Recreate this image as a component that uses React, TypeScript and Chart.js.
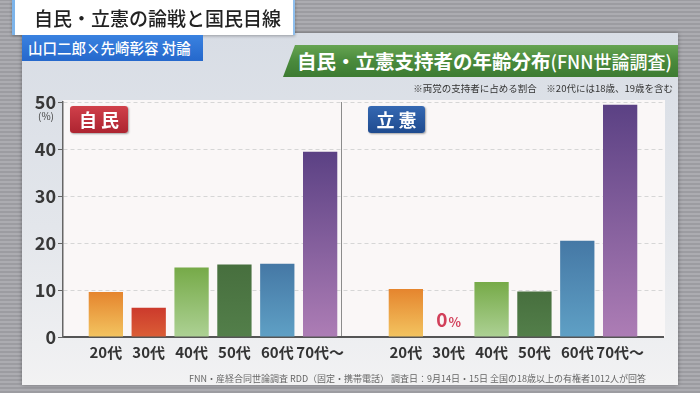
import { useEffect, useRef } from 'react';
import { Chart, registerables } from 'chart.js';

Chart.register(...registerables);

// ---- data ----
const categories = ['20代', '30代', '40代', '50代', '60代', '70代〜'];
const ldpValues = [9.6, 6.2, 14.8, 15.4, 15.6, 39.4];
const cdpValues = [10.2, 0, 11.7, 9.7, 20.5, 49.4];
const yTicks = [0, 10, 20, 30, 40, 50];

const JP = '"Noto Sans CJK JP", "Noto Sans", sans-serif';

const barColors: [string, string][] = [
  ['#e5852e', '#f3c460'],
  ['#cc3a2c', '#db5e36'],
  ['#76aa48', '#add194'],
  ['#476f3e', '#537f4a'],
  ['#4578a5', '#5fa0c5'],
  ['#5b4184', '#ad7db5'],
];

export default function App() {
  const ref = useRef<HTMLCanvasElement>(null);

  useEffect(() => {
    if (!ref.current) return;
    const labels = ['', ...categories, '', ...categories, ''];
    const values: (number | null)[] = [null, ...ldpValues, null, ...cdpValues, null];
    const colorIndex = labels.map((l) => categories.indexOf(l));

    const plotBg = {
      id: 'plotBg',
      beforeDraw(chart: any) {
        const { ctx, chartArea: a } = chart;
        ctx.save();
        ctx.fillStyle = '#faf7f7';
        ctx.fillRect(a.left, a.top - 2, a.right - a.left + 2, a.bottom - a.top + 2);
        ctx.restore();
      },
    };

    const zeroLabel = {
      id: 'zeroLabel',
      afterDatasetsDraw(chart: any) {
        const { ctx, scales } = chart;
        values.forEach((v, i) => {
          if (v !== 0) return;
          const cx = scales.x.getPixelForValue(i);
          const by = scales.y.getPixelForValue(0) - 10;
          ctx.save();
          ctx.fillStyle = '#d2405a';
          ctx.textBaseline = 'alphabetic';
          ctx.textAlign = 'left';
          ctx.font = `bold 19px ${JP}`;
          const w0 = ctx.measureText('0').width;
          ctx.font = `bold 13px ${JP}`;
          const w1 = ctx.measureText('%').width;
          const start = cx - (w0 + w1 + 1) / 2;
          ctx.font = `bold 19px ${JP}`;
          ctx.fillText('0', start, by);
          ctx.font = `bold 13px ${JP}`;
          ctx.fillText('%', start + w0 + 1, by);
          ctx.restore();
        });
      },
    };

    const chart = new Chart(ref.current, {
      type: 'bar',
      data: {
        labels,
        datasets: [
          {
            data: values as any,
            barPercentage: 0.8,
            categoryPercentage: 1,
            borderWidth: 0,
            backgroundColor: (c: any) => {
              const ci = colorIndex[c.dataIndex];
              if (ci < 0) return 'rgba(0,0,0,0)';
              const [top, bottom] = barColors[ci];
              const chart = c.chart;
              if (!chart.chartArea) return top;
              const ys = chart.scales.y;
              const v = values[c.dataIndex] ?? 0;
              const t = ys.getPixelForValue(v);
              const b = ys.getPixelForValue(0);
              if (!(b - t > 0.5)) return top;
              const g = chart.ctx.createLinearGradient(0, t, 0, b);
              g.addColorStop(0, top);
              g.addColorStop(1, bottom);
              return g;
            },
          },
        ],
      },
      options: {
        animation: false,
        responsive: true,
        maintainAspectRatio: false,
        layout: { padding: { left: 22, right: 37, top: 102, bottom: 0 } },
        plugins: { legend: { display: false }, tooltip: { enabled: false } },
        scales: {
          x: {
            type: 'category',
            offset: false,
            grid: {
              color: (c: any) => (c.index === 7 ? '#8c8c8c' : 'rgba(0,0,0,0)'),
              lineWidth: 1,
              drawTicks: false,
            },
            border: { display: true, color: '#555', width: 2 },
            ticks: {
              autoSkip: false,
              maxRotation: 0,
              minRotation: 0,
              padding: 6,
              color: '#333',
              font: { family: JP, size: 15, weight: 'bold' },
            },
            afterFit: (s: any) => {
              s.height = 56;
            },
          },
          y: {
            min: 0,
            max: 50,
            afterBuildTicks: (s: any) => {
              s.ticks = yTicks.map((v) => ({ value: v }));
            },
            grid: {
              color: (c: any) => (c.tick && c.tick.value === 0 ? 'rgba(0,0,0,0)' : '#d6d6d6'),
              lineWidth: 1,
              drawTicks: true,
              tickLength: 5,
              tickColor: '#666',
            },
            border: { display: true, color: '#666', width: 1.5, dash: [4, 3] },
            ticks: {
              padding: 2,
              color: '#383838',
              font: { family: JP, size: 18, weight: 'bold' },
            },
            afterFit: (s: any) => {
              s.width = 41;
            },
          },
        },
      },
      plugins: [plotBg, zeroLabel],
    } as any);

    return () => chart.destroy();
  }, []);

  const abs = (s: any) => ({ position: 'absolute', ...s } as any);

  return (
    <div
      style={{
        position: 'fixed',
        left: 0,
        top: 0,
        width: 700,
        height: 393,
        overflow: 'hidden',
        fontFamily: JP,
        background: 'repeating-linear-gradient(0deg, #9c9ca1 0px, #9c9ca1 2px, #acacb1 2px, #acacb1 4px)',
      }}
    >
      {/* main panel */}
      <div
        style={abs({
          left: 22,
          top: 33,
          width: 656,
          height: 352,
          background: 'linear-gradient(180deg, #d8dde5 0%, #e3e6eb 55%, #f2f2f3 100%)',
          boxShadow: '0 0 4px rgba(0,0,0,0.35)',
        })}
      />
      {/* chart */}
      <div style={abs({ left: 0, top: 0, width: 700, height: 393 })}>
        <canvas ref={ref} />
      </div>

      {/* title */}
      <div
        style={abs({
          left: 12,
          top: 0,
          width: 283,
          height: 35,
          background: '#ffffff',
          borderLeft: '3px solid #7db4ea',
          borderRight: '2px solid #8fbfee',
          boxSizing: 'border-box',
          boxShadow: '0 1px 3px rgba(0,0,0,0.3)',
          color: '#222',
          fontSize: 19,
          fontWeight: 500,
          lineHeight: '35px',
          paddingLeft: 19,
          whiteSpace: 'nowrap',
        })}
      >
        自民・立憲の論戦と国民目線
      </div>

      {/* blue label */}
      <div
        style={abs({
          left: 22,
          top: 35,
          width: 181,
          height: 26,
          background: 'linear-gradient(180deg, #3a82e0, #2568cc)',
          color: '#fff',
          fontSize: 14.5,
          fontWeight: 500,
          lineHeight: '26px',
          paddingLeft: 6,
          boxSizing: 'border-box',
          whiteSpace: 'nowrap',
        })}
      >
        山口二郎×先崎彰容 対論
      </div>

      {/* green banner */}
      <div
        style={abs({
          left: 283,
          top: 45,
          width: 395,
          height: 32,
          background: 'linear-gradient(180deg, #66a452 0%, #4a8a3c 50%, #3d7b32 100%)',
          clipPath: 'polygon(12px 0, 100% 0, 100% 100%, 0 100%)',
          color: '#fff',
          fontWeight: 700,
          fontSize: 19.5,
          lineHeight: '32px',
          paddingLeft: 14,
          boxSizing: 'border-box',
          whiteSpace: 'nowrap',
        })}
      >
        自民・立憲支持者の年齢分布<span style={{ fontSize: 18, fontWeight: 500 }}>(FNN世論調査)</span>
      </div>

      {/* note */}
      <div
        style={abs({
          right: 27,
          top: 82,
          fontSize: 9.5,
          color: '#333',
          whiteSpace: 'nowrap',
          lineHeight: '13px',
        })}
      >
        ※両党の支持者に占める割合　※20代には18歳、19歳を含む
      </div>

      {/* (%) */}
      <div style={abs({ left: 38, top: 110, fontSize: 10, color: '#444', lineHeight: '12px' })}>(%)</div>

      {/* badges */}
      <div
        style={abs({
          left: 70,
          top: 106,
          width: 58,
          height: 27,
          borderRadius: 3,
          background: 'linear-gradient(180deg, #d0404a, #ad2430)',
          boxShadow: '1px 1px 2px rgba(0,0,0,0.35)',
          color: '#fff',
          fontWeight: 700,
          fontSize: 18,
          lineHeight: '27px',
          textAlign: 'center',
          letterSpacing: 4,
          paddingLeft: 4,
          boxSizing: 'border-box',
        })}
      >
        自民
      </div>
      <div
        style={abs({
          left: 368,
          top: 106,
          width: 57,
          height: 27,
          borderRadius: 3,
          background: 'linear-gradient(180deg, #3568b2, #1f4b8f)',
          boxShadow: '1px 1px 2px rgba(0,0,0,0.35)',
          color: '#fff',
          fontWeight: 700,
          fontSize: 18,
          lineHeight: '27px',
          textAlign: 'center',
          letterSpacing: 4,
          paddingLeft: 4,
          boxSizing: 'border-box',
        })}
      >
        立憲
      </div>

      {/* footer */}
      <div
        style={abs({
          left: 189,
          top: 372,
          fontSize: 9,
          color: '#666',
          whiteSpace: 'nowrap',
          lineHeight: '13px',
        })}
      >
        FNN・産経合同世論調査 RDD（固定・携帯電話） 調査日：9月14日・15日 全国の18歳以上の有権者1012人が回答
      </div>
    </div>
  );
}
